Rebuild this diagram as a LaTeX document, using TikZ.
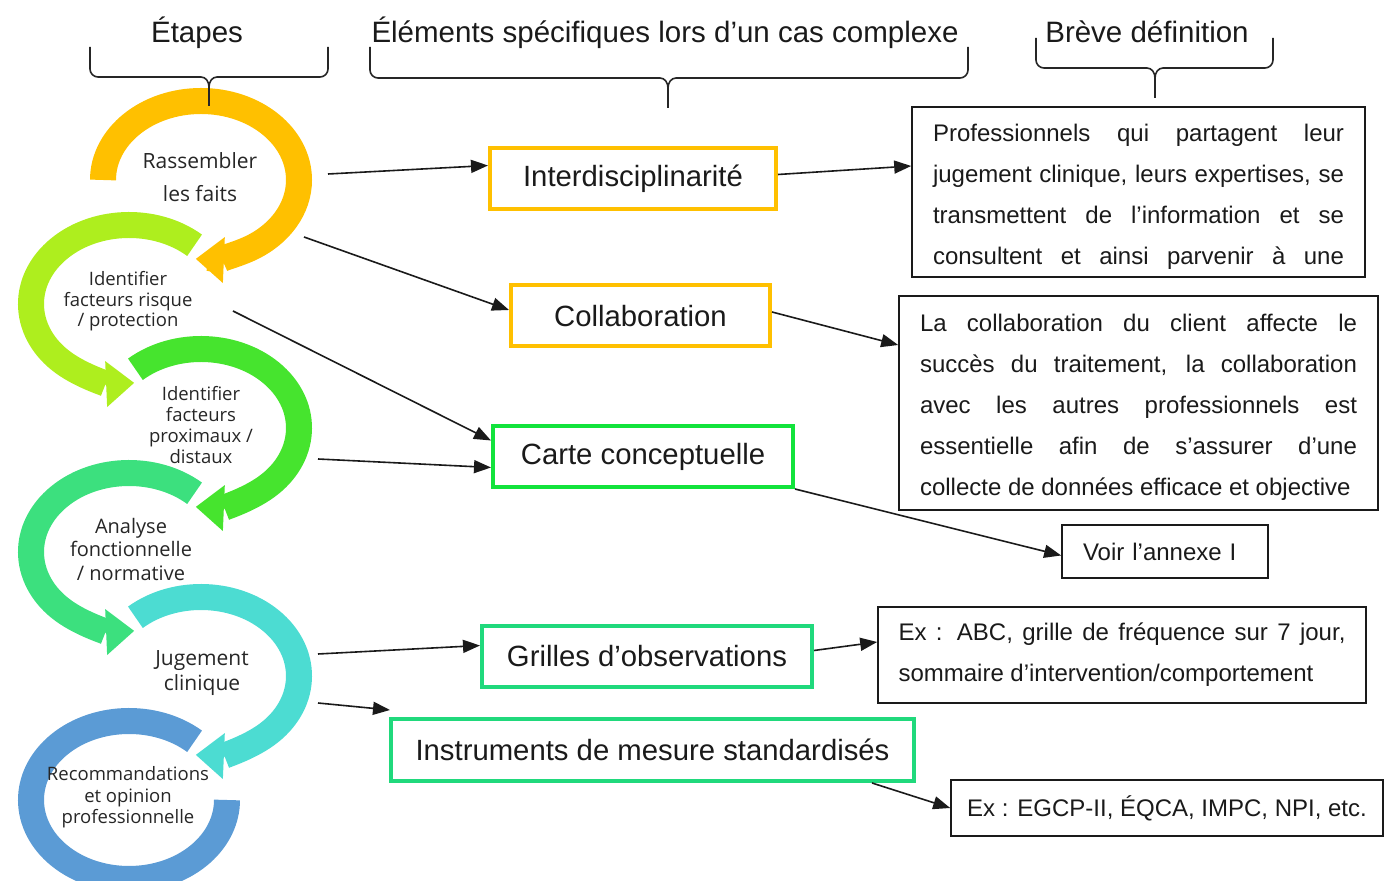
\documentclass[tikz,border=0pt]{standalone}
\usepackage{fontspec}
\setmainfont{Liberation Sans}
\newfontfamily\ringfont{Open Sans}
\usetikzlibrary{arrows.meta,positioning}
\definecolor{Amber}{HTML}{FFC000}
\definecolor{Lime}{HTML}{AEEE1E}
\definecolor{Leaf}{HTML}{46E42E}
\definecolor{Mint}{HTML}{3CE07E}
\definecolor{Aqua}{HTML}{4CDCD2}
\definecolor{Steel}{HTML}{5B9BD5}
\definecolor{Spring}{HTML}{12E33C}
\definecolor{Jade}{HTML}{20D97C}
\definecolor{Ink}{HTML}{1A1A1A}
\definecolor{Graphite}{HTML}{262626}
\tikzset{
  ring/.style={line width=26pt},
  ringtip/.style={-{Triangle[length=28pt,width=46pt,line width=0pt]}},
  steptext/.style={text=Graphite, align=center, inner sep=0pt},
  heading/.style={text=Ink, font=\fontsize{29.5}{34}\selectfont},
  keybox/.style={
    draw, line width=4pt, minimum height=61pt, inner sep=0pt,
    text=Ink, font=\fontsize{29.3}{34}\selectfont
  },
  defbox/.style={
    draw=Ink, line width=1.6pt, align=justify, inner xsep=21pt,
    text=Ink, font=\fontsize{24}{41}\selectfont
  },
  flow/.style={-{Triangle[length=17pt,width=13pt]}, line width=1.6pt, draw=Ink},
  bracket/.style={line width=1.6pt, draw=black!85}
}
\newcommand{\headbrace}[6]{%
  \draw[bracket] (#1,#4) -- (#1,#5+8) to[out=-90,in=180] (#1+8,#5) -- (#3-8,#5)
    to[out=0,in=90] (#3,#5-10) -- (#3,#6);
  \draw[bracket] (#2,#4) -- (#2,#5+8) to[out=-90,in=0] (#2-8,#5) -- (#3+8,#5)
    to[out=180,in=90] (#3,#5-10);
}

\begin{document}
\begin{tikzpicture}[x=1pt,y=1pt]
  \useasboundingbox (0,0) rectangle (1385,881);
  % steps
  \draw[ring,draw=Amber,ringtip] (201,701) ++(180:98 and 79)
    arc[start angle=180,end angle=-93,x radius=98,y radius=79];
  \draw[ring,draw=Lime,ringtip] (129,577) ++(48:98 and 79)
    arc[start angle=48,end angle=273,x radius=98,y radius=79];
  \draw[ring,draw=Leaf,ringtip] (201,453) ++(132:98 and 79)
    arc[start angle=132,end angle=-93,x radius=98,y radius=79];
  \draw[ring,draw=Mint,ringtip] (129,329) ++(48:98 and 79)
    arc[start angle=48,end angle=273,x radius=98,y radius=79];
  \draw[ring,draw=Aqua,ringtip] (201,205) ++(132:98 and 79)
    arc[start angle=132,end angle=-93,x radius=98,y radius=79];
  \draw[ring,draw=Steel] (129,81) ++(48:98 and 79)
    arc[start angle=48,end angle=360,x radius=98,y radius=79];

  \node[steptext,font=\ringfont\fontsize{21}{33}\selectfont] (step1) at (200,703.5) {Rassembler\\les faits};
  \node[steptext,font=\ringfont\fontsize{18.5}{20.5}\selectfont] (step2) at (128,579.5) {Identifier\\facteurs risque\\/ protection};
  \node[steptext,font=\ringfont\fontsize{18.5}{21}\selectfont] (step3) at (201,455.5) {Identifier\\facteurs\\proximaux /\\distaux};
  \node[steptext,font=\ringfont\fontsize{20}{23.5}\selectfont] (step4) at (131,331.5) {Analyse\\fonctionnelle\\/ normative};
  \node[steptext,font=\ringfont\fontsize{21}{25}\selectfont] (step5) at (202,207.5) {Jugement\\clinique};
  \node[steptext,font=\ringfont\fontsize{18.5}{21.5}\selectfont] (step6) at (128,83.5) {Recommandations\\et opinion\\professionnelle};

  % headings
  \node[heading,anchor=base] (etapes) at (197,838) {Étapes};
  \node[heading,anchor=base] (elements) at (665,838) {Éléments spécifiques lors d’un cas complexe};
  \node[heading,anchor=base] (breve) at (1147,838) {Brève définition};
  \headbrace{90}{328}{209}{834}{804}{775}
  \headbrace{370}{968}{668}{834}{803}{773}
  \headbrace{1036}{1273}{1155}{843}{813}{783}

  % elements
  \node[keybox,draw=Amber,minimum width=286pt] (inter) at (633,702.5) {Interdisciplinarité};
  \node[keybox,draw=Amber,minimum width=259pt] (collab) at (640.5,565) {Collaboration};
  \node[keybox,draw=Spring,minimum width=300pt] (carte) at (643,424.5) {Carte conceptuelle};
  \node[keybox,draw=Jade,minimum width=330pt] (grilles) at (647,224.5) {Grilles d’observations};
  \node[keybox,draw=Jade,minimum width=523pt,minimum height=62pt] (instr) at (652.5,131) {Instruments de mesure standardisés};

  % definitions
  \node[defbox,text width=411pt,minimum height=170pt] (def1) at (1138.5,689)
    {\rule{0pt}{27pt}Professionnels qui partagent leur\linebreak
     jugement clinique, leurs expertises, se\linebreak
     transmettent de l’information et se\linebreak
     consultent\hfill et\hfill ainsi\hfill parvenir\hfill à\hfill une};
  \node[defbox,text width=437pt,minimum height=214pt] (def2) at (1138.5,478)
    {\rule{0pt}{26pt}La collaboration du client affecte le\linebreak
     succès du traitement, la collaboration\linebreak
     avec les autres professionnels est\linebreak
     essentielle afin de s’assurer d’une\linebreak
     collecte de données efficace et objective};
  \node[defbox,align=left,text width=164pt,minimum height=53pt] (voir) at (1165,329.5) {Voir l’annexe I};
  \node[defbox,text width=447pt,minimum height=96pt,inner xsep=20.5pt] (exabc) at (1122,226)
    {Ex : ABC, grille de fréquence sur 7 jour,\linebreak
     sommaire d’intervention/comportement};
  \node[defbox,align=center,minimum width=432pt,minimum height=56pt,inner xsep=0pt] (exegcp) at (1167,73)
    {Ex : EGCP-II, ÉQCA, IMPC, NPI, etc.};

  % connectors
  \coordinate (s1) at (328,707);
  \coordinate (s3) at (304,644);
  \coordinate (s5) at (233,570);
  \coordinate (s6) at (318,422);
  \coordinate (s8) at (318,227);
  \coordinate (s10) at (318,178);
  \draw[flow] (s1) -- ([yshift=13pt]inter.west);
  \draw[flow] ([yshift=4pt]inter.east) -- ([yshift=26pt]def1.west);
  \draw[flow] (s3) -- ([yshift=6pt]collab.west);
  \draw[flow] ([yshift=4pt]collab.east) -- ([yshift=58pt]def2.west);
  \draw[flow] (s5) -- ([yshift=16pt]carte.west);
  \draw[flow] (s6) -- ([yshift=-11pt]carte.west);
  \draw[flow] (carte.south east) -- ([yshift=-4pt]voir.west);
  \draw[flow] (s8) -- ([yshift=11pt]grilles.west);
  \draw[flow] ([yshift=6pt]grilles.east) -- ([yshift=13pt]exabc.west);
  \draw[flow] (s10) -- ([xshift=1pt,yshift=7pt]instr.north west);
  \draw[flow] ([xshift=-44pt]instr.south east) -- (exegcp.west);
\end{tikzpicture}
\end{document}
